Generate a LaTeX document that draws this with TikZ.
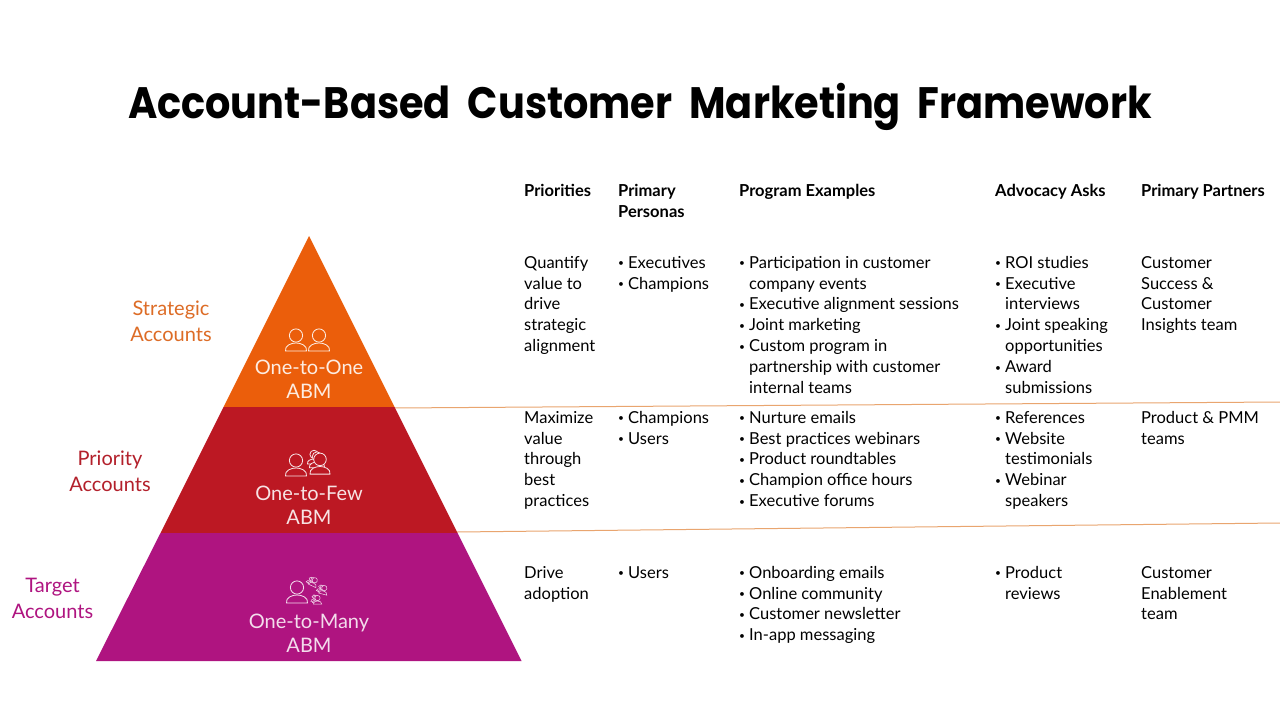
\documentclass[tikz,border=0pt]{standalone}
\usepackage{fontspec}
\setmainfont{Lato}
\newfontfamily\titlefont[WordSpace=2.0]{Poppins}
\definecolor{orangeT}{HTML}{EB5E0B}
\definecolor{redT}{HTML}{BC1823}
\definecolor{magT}{HTML}{AF1480}
\definecolor{lineT}{HTML}{E9A56F}
\definecolor{orangeL}{HTML}{DD6C26}
\definecolor{redL}{HTML}{B3202B}
\newcommand{\bl}{\makebox[10pt][l]{\raisebox{1.6pt}{\scalebox{.62}{•}}}}
\newcommand{\ct}{\hspace*{10pt}}
\tikzset{
  x=1pt,y=-1pt,
  cell/.style={anchor=north west,inner sep=0,align=left,text=black,font=\fontsize{16.5}{20.92}\selectfont},
  head/.style={anchor=north west,inner sep=0,align=left,text=black,font=\fontsize{16.5}{21}\selectfont\bfseries},
  side/.style={inner sep=0,align=center,font=\fontsize{20}{26}\selectfont},
  tier/.style={inner sep=0,align=center,font=\fontsize{20}{24}\selectfont},
  rule/.style={draw=lineT,line width=1pt},
  person/.pic={
    \draw[pic actions] (0,-7.5) circle (6.6);
    \draw[pic actions] (-10.5,8) .. controls (-11.5,2.5) and (-5,0) .. (0,0) .. controls (5,0) and (11.5,2.5) .. (10.5,8) -- cycle;
  }
}
\begin{document}
\begin{tikzpicture}
\useasboundingbox (0,0) rectangle (1280,720);
\fill[white] (0,0) rectangle (1280,720);
\coordinate (ruleA) at (394,408);
\coordinate (ruleAend) at (1280,402);
\coordinate (ruleB) at (457,532);
\coordinate (ruleBend) at (1280,523);
\draw[rule] (ruleA) -- (ruleAend);
\draw[rule] (ruleB) -- (ruleBend);
\fill[orangeT] (309,236) -- (394.5,407) -- (223.5,407) -- cycle;
\fill[redT] (223.5,407) -- (394.5,407) -- (457.5,533) -- (160.5,533) -- cycle;
\fill[magT] (160.5,533) -- (457.5,533) -- (521.5,661) -- (96,661) -- cycle;

\node[anchor=center,inner sep=0,xscale=.905,font=\titlefont\fontsize{44}{50}\selectfont\bfseries] (title) at (640,107) {Account-Based Customer Marketing Framework};

\node[side,text=orangeL] (s1) at (171,321) {Strategic\\Accounts};
\node[side,text=redL] (s2) at (110,471) {Priority\\Accounts};
\node[side,text=magT] (s3) at (52.5,598) {Target\\Accounts};

\node[tier,text=orangeT!12!white] (t1) at (309,379) {One-to-One\\ABM};
\node[tier,text=redT!12!white] (t2) at (309,505) {One-to-Few\\ABM};
\node[tier,text=magT!15!white] (t3) at (309,633) {One-to-Many\\ABM};

% icons
\begin{scope}[line width=.8pt]
\pic[draw=orangeT!12!white,fill=orangeT] at (296,343) {person};
\pic[draw=orangeT!12!white,fill=orangeT] at (319,343) {person};
\end{scope}
\begin{scope}[line width=.8pt]
\pic[draw=redT!12!white,fill=redT] at (296,468) {person};
\pic[draw=redT!12!white,fill=redT,scale=.62] at (314,459) {person};
\pic[draw=redT!12!white,fill=redT,scale=.72] at (317,462) {person};
\pic[draw=redT!12!white,fill=redT,scale=.95] at (320,466.5) {person};
\end{scope}
\begin{scope}[line width=.8pt]
\pic[draw=magT!15!white,fill=magT] at (297,595) {person};
\foreach \cx/\cy/\rot in {312/582/-25,322/590/-15,316/600/0}{
  \pic[draw=magT!15!white,fill=magT,scale=.3,rotate=\rot,line width=.5pt] at (\cx-2,\cy-1) {person};
  \pic[draw=magT!15!white,fill=magT,scale=.34,rotate=\rot,line width=.5pt] at (\cx,\cy) {person};
  \pic[draw=magT!15!white,fill=magT,scale=.4,rotate=\rot,line width=.5pt] at (\cx+1.5,\cy+1) {person};
}
\end{scope}

% headers
\node[head] (h1) at (524,181.3) {\strut Priorities};
\node[head] (h2) at (618,181.3) {\strut Primary\\Personas};
\node[head] (h3) at (739,181.3) {\strut Program Examples};
\node[head] (h4) at (995,181.3) {\strut Advocacy Asks};
\node[head] (h5) at (1141,181.3) {\strut Primary Partners};

% row 1
\node[cell] (a1) at (524,253.3) {\strut Quantify\\value to\\drive\\strategic\\alignment};
\node[cell] (a2) at (618,253.3) {\strut\bl Executives\\\bl Champions};
\node[cell] (a3) at (739,253.3) {\strut\bl Participation in customer\\\ct company events\\\bl Executive alignment sessions\\\bl Joint marketing\\\bl Custom program in\\\ct partnership with customer\\\ct internal teams};
\node[cell] (a4) at (995,253.3) {\strut\bl ROI studies\\\bl Executive\\\ct interviews\\\bl Joint speaking\\\ct opportunities\\\bl Award\\\ct submissions};
\node[cell] (a5) at (1141,253.3) {\strut Customer\\Success \&\\Customer\\Insights team};

% row 2
\node[cell] (b1) at (524,408.3) {\strut Maximize\\value\\through\\best\\practices};
\node[cell] (b2) at (618,408.3) {\strut\bl Champions\\\bl Users};
\node[cell] (b3) at (739,408.3) {\strut\bl Nurture emails\\\bl Best practices webinars\\\bl Product roundtables\\\bl Champion office hours\\\bl Executive forums};
\node[cell] (b4) at (995,408.3) {\strut\bl References\\\bl Website\\\ct testimonials\\\bl Webinar\\\ct speakers};
\node[cell] (b5) at (1141,408.3) {\strut Product \& PMM\\teams};

% row 3
\node[cell] (c1) at (524,563.3) {\strut Drive\\adoption};
\node[cell] (c2) at (618,563.3) {\strut\bl Users};
\node[cell] (c3) at (739,563.3) {\strut\bl Onboarding emails\\\bl Online community\\\bl Customer newsletter\\\bl In-app messaging};
\node[cell] (c4) at (995,563.3) {\strut\bl Product\\\ct reviews};
\node[cell] (c5) at (1141,563.3) {\strut Customer\\Enablement\\team};
\end{tikzpicture}
\end{document}
